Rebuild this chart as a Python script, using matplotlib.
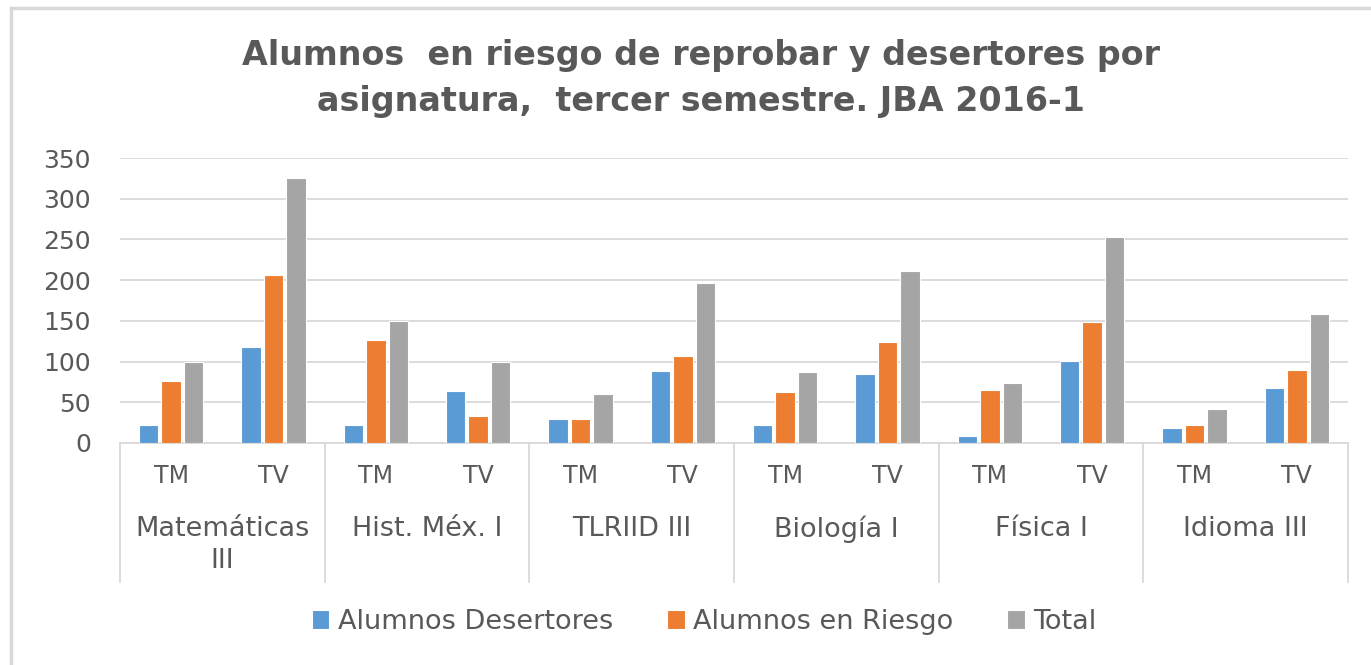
import matplotlib.pyplot as plt
import matplotlib.transforms as mtransforms
from matplotlib.lines import Line2D
import numpy as np

plt.rcParams['font.family'] = ['DejaVu Sans']

# datos
materias = ['Matemáticas\nIII', 'Hist. Méx. I', 'TLRIID III', 'Biología I', 'Física I', 'Idioma III']
turnos = ['TM', 'TV']
desertores = [22, 118, 22, 64, 29, 88, 22, 85, 9, 101, 18, 67]
riesgo = [76, 206, 127, 33, 29, 107, 63, 124, 65, 148, 22, 90]
total = [100, 325, 150, 100, 60, 197, 87, 211, 74, 253, 42, 159]
series = ['Alumnos Desertores', 'Alumnos en Riesgo', 'Total']
colores = ['#5B9BD5', '#ED7D31', '#A5A5A5']
texto = '#595959'
linea = '#D9D9D9'

fig = plt.figure(figsize=(13.71, 6.65), dpi=100)
ax = fig.add_axes([120 / 1371, 1 - 443 / 665, 1228 / 1371, 285 / 665])

x = np.arange(len(desertores))
ancho = 0.19
for k, (vals, nom, col) in enumerate(zip([desertores, riesgo, total], series, colores)):
    ax.bar(x + (k - 1) * 0.22, vals, ancho, color=col, edgecolor='white',
           linewidth=0.8, label=nom, zorder=3)

ax.set_xlim(-0.5, len(x) - 0.5)
ax.set_ylim(0, 350)
ax.set_yticks(range(0, 351, 50))
ax.yaxis.grid(True, color=linea, linewidth=1.3, zorder=0)
for s in ['top', 'right', 'left']:
    ax.spines[s].set_visible(False)
ax.spines['bottom'].set_color(linea)
ax.spines['bottom'].set_linewidth(1.3)
ax.tick_params(axis='y', length=0, pad=21, labelsize=18, labelcolor=texto)
ax.set_xticks(x)
ax.set_xticklabels(turnos * len(materias))
ax.tick_params(axis='x', length=0, pad=15, labelsize=17, labelcolor=texto)

# separadores y etiquetas de materia
trans = mtransforms.blended_transform_factory(ax.transData, ax.transAxes)
for i in range(len(materias) + 1):
    ax.plot([2 * i - 0.5, 2 * i - 0.5], [0, -0.488], transform=trans, color=linea,
            linewidth=1.3, clip_on=False)
for i, m in enumerate(materias):
    ax.text(2 * i + 0.5, -0.255, m, transform=trans, ha='center', va='top',
            fontsize=19.5, color=texto, linespacing=1.3)

fig.text(0.511, 1 - 78 / 665, 'Alumnos  en riesgo de reprobar y desertores por\nasignatura,  tercer semestre. JBA 2016-1',
         ha='center', va='center', fontsize=24, fontweight='bold', color=texto, linespacing=1.5)

fig.legend(loc='center', bbox_to_anchor=(704 / 1371, 1 - 622 / 665), ncol=3, frameon=False,
           fontsize=19.5, labelcolor=texto, handlelength=0.65, handleheight=0.65,
           handletextpad=0.3, columnspacing=2.0)

# marco del grafico
fig.add_artist(Line2D([11 / 1371, 11 / 1371], [0, 1 - 8 / 665], color=linea, linewidth=2.5))
fig.add_artist(Line2D([11 / 1371, 1], [1 - 8 / 665, 1 - 8 / 665], color=linea, linewidth=2.5))

fig.savefig('out.png', dpi=100)
